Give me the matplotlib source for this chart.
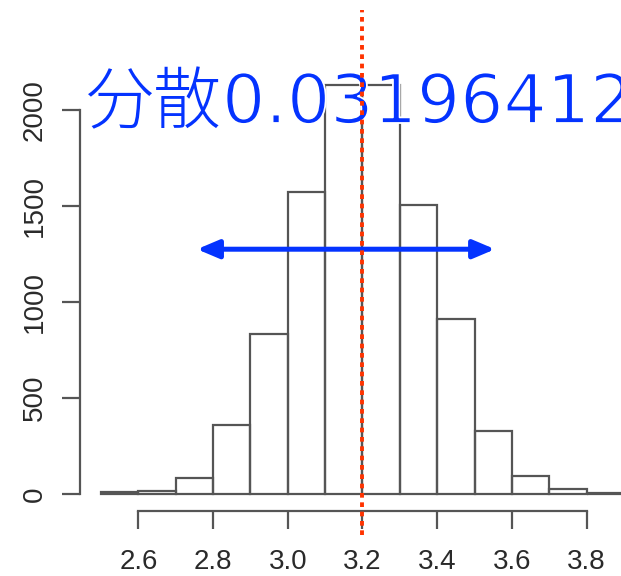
import numpy as np
import matplotlib.pyplot as plt
import matplotlib.patheffects as pe

# histogram counts (bin width 0.1, starting at 2.5)
bin_left = [2.5, 2.6, 2.7, 2.8, 2.9, 3.0, 3.1, 3.2, 3.3, 3.4, 3.5, 3.6, 3.7, 3.8]
counts = [8, 16, 85, 360, 833, 1575, 2130, 2130, 1505, 911, 330, 94, 26, 3]
xticks = [2.6, 2.8, 3.0, 3.2, 3.4, 3.6, 3.8]
yticks = [0, 500, 1000, 1500, 2000]
mean_val = 3.2
arrow_x = [2.757, 3.555]
arrow_y = 1275
label_jp = '分散'
label_num = '0.03196412'

fig = plt.figure(figsize=(6.21, 5.76), dpi=100)
ax = fig.add_axes([0, 0, 1, 1])
ax.set_xlim(2.2296, 3.8922)
ax.set_ylim(-427, 2573)

ax.bar(bin_left, counts, width=0.1, align='edge', fill=False,
       edgecolor='#555555', linewidth=1.6, zorder=2)

# R style axes
for s in ['top', 'right']:
    ax.spines[s].set_visible(False)
ax.spines['left'].set_position(('data', 2.4438))
ax.spines['left'].set_bounds(0, 2000)
ax.spines['bottom'].set_position(('data', -88.5))
ax.spines['bottom'].set_bounds(2.6, 3.8)
for s in ['left', 'bottom']:
    ax.spines[s].set_color('#555555')
    ax.spines[s].set_linewidth(1.6)
ax.set_xticks(xticks)
ax.set_xticklabels(['%.1f' % v for v in xticks])
ax.set_yticks(yticks)
ax.set_yticklabels([str(v) for v in yticks], rotation=90, va='center')
ax.tick_params(length=13, width=1.6, color='#555555', labelcolor='#2a2a2a',
               labelsize=20)
ax.tick_params(axis='x', pad=14)
ax.tick_params(axis='y', pad=10)
for t in ax.get_xticklabels() + ax.get_yticklabels():
    t.set_family('Liberation Sans')

# double arrow
ax.annotate('', xy=(arrow_x[0], arrow_y), xytext=(arrow_x[1], arrow_y),
            arrowprops=dict(arrowstyle='<|-|>,head_length=1.3,head_width=0.55',
                            color='#0433ff', lw=3.6, shrinkA=0, shrinkB=0),
            zorder=3)

# mean line
ax.plot([mean_val, mean_val], [-215, 2520], color='#ff3300', lw=2.8,
        linestyle=(0, (1.2, 1.2)), zorder=5, clip_on=False)

# variance label (text runs off the right edge, as in the original)
base_y = 2573 - 123 / 0.192
ax.text(2.2296 + 86 / 373.5, base_y, label_jp, color='#0433ff',
        fontsize=49, family=['Noto Sans CJK JP', 'DejaVu Sans'],
        fontweight='light', va='baseline', ha='left', zorder=4)
# thin the DejaVu digits a little with a white outline on top
ax.text(2.2296 + 222 / 373.5, base_y, label_num, color='#0433ff',
        fontsize=49, family='DejaVu Sans', va='baseline', ha='left', zorder=4,
        path_effects=[pe.Normal(), pe.Stroke(linewidth=1.3, foreground='white')])

fig.savefig('out.png', dpi=100)
